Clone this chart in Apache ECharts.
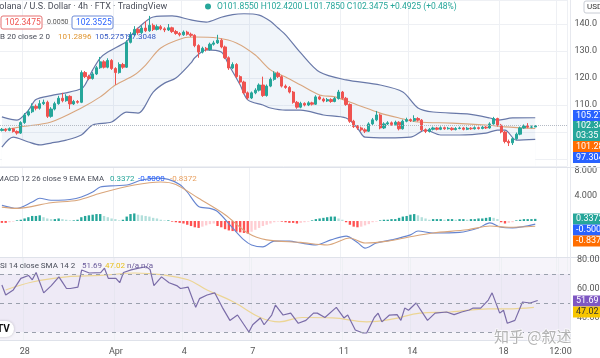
<!DOCTYPE html>
<html>
<head>
<meta charset="utf-8">
<title>SOL/USD 4h</title>
<script src="https://cdn.jsdelivr.net/npm/echarts@6/dist/echarts.min.js"></script>
<style>
    html, body { margin: 0; padding: 0; background: #fff; }
    #chart { width: 600px; height: 358px; }
</style>
</head>
<body>
<div id="chart"></div>
<script>
// 4h candles, Mar 27 00:00 onwards (150 slots, 142 filled)
const opens = [
    100.6, 101.0, 100.6, 101.2, 100.2, 99.6, 103.5, 106.3, 107.5, 109.5,
    108.8, 110.5, 111.0, 105.8, 108.5, 110.5, 112.5, 111.6, 113.2, 110.4,
    111.3, 111.0, 122.0, 120.5, 119.8, 121.5, 123.8, 126.0, 124.0, 126.5,
    123.5, 122.0, 125.0, 124.0, 133.2, 136.0, 138.0, 136.8, 138.5, 137.5,
    139.5, 138.0, 139.0, 138.2, 137.8, 138.6, 137.2, 136.5, 136.0, 137.0,
    136.2, 135.8, 132.0, 129.6, 131.0, 130.5, 132.5, 133.0, 134.0, 131.5,
    127.5, 123.7, 125.0, 120.5, 118.5, 114.5, 112.6, 114.5, 115.5, 117.4,
    113.5, 117.0, 119.5, 121.8, 120.5, 117.0, 116.5, 114.8, 111.0, 109.2,
    110.6, 110.0, 110.8, 110.3, 113.0, 112.2, 111.5, 112.0, 111.3, 112.4,
    114.8, 112.5, 110.2, 104.0, 102.0, 101.5, 100.8, 100.3, 103.0, 104.5,
    106.3, 101.5, 103.0, 103.4, 102.8, 103.6, 101.2, 104.0, 104.6, 104.2,
    105.0, 104.4, 100.8, 100.2, 101.0, 101.5, 101.0, 101.6, 101.2, 101.4,
    100.9, 101.3, 101.5, 101.0, 101.4, 101.2, 101.6, 101.3, 101.8, 101.5,
    103.0, 105.0, 102.5, 100.0, 96.5, 96.0, 97.5, 99.2, 101.5, 102.2,
    101.8, 101.855
]
const closes = [
    101.0, 100.6, 101.2, 100.2, 99.6, 103.5, 106.3, 107.5, 109.5, 108.8,
    110.5, 111.0, 105.8, 108.5, 110.5, 112.5, 111.6, 113.2, 110.4, 111.3,
    111.0, 122.0, 120.5, 119.8, 121.5, 123.8, 126.0, 124.0, 126.5, 123.5,
    122.0, 125.0, 124.0, 133.2, 136.0, 138.0, 136.8, 138.5, 137.5, 139.5,
    138.0, 139.0, 138.2, 137.8, 138.6, 137.2, 136.5, 136.0, 137.0, 136.2,
    135.8, 132.0, 129.6, 131.0, 130.5, 132.5, 133.0, 134.0, 131.5, 127.5,
    123.7, 125.0, 120.5, 118.5, 114.5, 112.6, 114.5, 115.5, 117.4, 113.5,
    117.0, 119.5, 121.8, 120.5, 117.0, 116.5, 114.8, 111.0, 109.2, 110.6,
    110.0, 110.8, 110.3, 113.0, 112.2, 111.5, 112.0, 111.3, 112.4, 114.8,
    112.5, 110.2, 104.0, 102.0, 101.5, 100.8, 100.3, 103.0, 104.5, 106.3,
    101.5, 103.0, 103.4, 102.8, 103.6, 101.2, 104.0, 104.6, 104.2, 105.0,
    104.4, 100.8, 100.2, 101.0, 101.5, 101.0, 101.6, 101.2, 101.4, 100.9,
    101.3, 101.5, 101.0, 101.4, 101.2, 101.6, 101.3, 101.8, 101.5, 103.0,
    105.0, 102.5, 100.0, 96.5, 96.0, 97.5, 99.2, 101.5, 102.2, 101.8,
    101.855, 102.3475
]
const highs = [
    101.5, 101.4, 101.7, 101.5, 100.6, 104.0, 107.0, 108.3, 110.6, 110.2,
    111.8, 112.0, 111.6, 109.2, 111.2, 113.4, 114.5, 114.0, 113.6, 111.9,
    111.8, 122.8, 122.6, 121.2, 122.2, 124.5, 127.8, 126.6, 127.3, 127.0,
    124.0, 125.8, 125.6, 134.0, 137.0, 139.2, 138.6, 139.4, 141.0, 143.0,
    140.2, 139.8, 139.6, 138.8, 140.0, 139.0, 137.8, 137.0, 137.6, 137.5,
    136.8, 136.2, 132.5, 131.6, 131.5, 133.1, 133.8, 136.0, 134.6, 132.0,
    128.0, 125.8, 125.5, 121.0, 119.0, 115.0, 115.0, 116.2, 118.0, 120.5,
    117.6, 120.2, 122.5, 122.4, 121.0, 117.6, 117.0, 115.2, 111.5, 111.2,
    111.0, 111.4, 111.2, 113.6, 113.5, 112.7, 112.6, 112.5, 113.0, 115.6,
    115.2, 113.0, 110.6, 104.5, 102.6, 102.0, 101.4, 103.6, 105.2, 107.8,
    106.8, 103.6, 104.0, 103.9, 104.2, 104.0, 104.6, 105.3, 105.0, 106.2,
    105.5, 104.8, 101.3, 101.5, 102.0, 101.9, 102.1, 102.0, 101.9, 101.8,
    101.8, 102.0, 101.9, 101.9, 101.8, 102.1, 102.0, 102.3, 102.2, 103.6,
    105.6, 105.3, 103.0, 100.4, 97.2, 98.0, 99.8, 102.0, 102.8, 103.3,
    102.4, 102.42
]
const lows = [
    100.2, 100.1, 100.3, 99.8, 99.0, 99.3, 103.0, 105.8, 107.0, 108.0,
    108.3, 110.0, 105.2, 105.3, 108.0, 110.1, 111.0, 111.2, 108.5, 110.0,
    110.5, 110.7, 120.0, 119.2, 119.4, 121.1, 123.4, 123.5, 123.6, 123.0,
    117.5, 121.6, 123.4, 123.7, 132.8, 135.5, 136.0, 136.3, 137.0, 137.1,
    137.4, 137.6, 137.7, 137.0, 137.4, 136.7, 136.0, 135.4, 135.6, 135.7,
    135.2, 131.4, 127.5, 129.1, 129.8, 130.1, 132.0, 132.6, 131.0, 127.0,
    123.0, 123.3, 120.0, 117.8, 114.0, 112.0, 112.2, 114.0, 115.0, 113.0,
    113.1, 116.6, 119.0, 120.0, 116.5, 116.0, 114.3, 110.5, 108.6, 108.8,
    109.5, 109.6, 109.8, 110.0, 111.8, 111.0, 111.1, 110.8, 111.0, 112.0,
    112.0, 109.7, 103.4, 101.5, 100.8, 100.2, 99.6, 100.0, 102.6, 104.0,
    101.0, 101.1, 102.6, 102.3, 102.4, 100.6, 100.9, 103.6, 103.7, 103.8,
    103.9, 100.3, 99.6, 99.8, 100.6, 100.6, 100.7, 100.8, 100.9, 100.5,
    100.6, 101.0, 100.6, 100.7, 100.8, 100.9, 100.9, 101.0, 101.1, 101.2,
    102.7, 102.0, 99.5, 95.8, 94.8, 95.2, 97.1, 98.8, 101.2, 101.4,
    101.4, 101.785
]

// Bollinger bands: [candle index, value]
const bbUpper = [
    [0, 105.6], [4, 104.4], [7, 108], [9, 112], [13, 113.5], [17, 114.5], [21, 116],
    [22, 117.5], [24, 123], [26, 127.4], [28, 129.6], [33, 133.5], [34, 135.5], [36, 138.5],
    [40, 142.6], [45, 143.0], [50, 141.5], [54, 140.7], [58, 142.5], [61, 143.5], [64, 143.8],
    [68, 143.3], [71, 141], [73, 138.5], [75, 136], [79, 129.3], [84, 122.2], [91, 119.3],
    [100, 117.4], [106, 114.8], [110, 108.9], [114, 107.4], [123, 106.7], [129, 105.2],
    [131, 104.4], [135, 105.2], [141, 105.2751]
]
const bbMiddle = [
    [0, 100.7], [5, 101.9], [13, 103.7], [21, 108.9], [26, 113.0], [30, 117.4], [35, 121.1],
    [38, 124.8], [42, 131.1], [48, 134.8], [51, 135.2], [57, 134.8], [62, 133.0], [67, 128.5],
    [71, 123.0], [75, 120.4], [79, 117.4], [84, 113.7], [88, 113.0], [94, 110.0], [100, 107.0],
    [105, 105.2], [110, 103.7], [119, 103.3], [128, 102.6], [133, 101.9], [141, 101.2896]
]
const bbLower = [
    [0, 94.4], [3, 98.1], [7, 96.3], [10, 95.2], [13, 95.9], [17, 97.0], [21, 98.9], [24, 102.6],
    [29, 103.7], [33, 107.4], [36, 107.0], [40, 114.8], [43, 118.1], [46, 120.0], [50, 125.6],
    [51, 127.5], [54, 130.4], [58, 129.6], [60, 124.8], [63, 117.4], [65, 111.9], [69, 110.0],
    [71, 108.9], [75, 108.1], [79, 108.1], [85, 106.3], [91, 105.2], [94, 101.5], [96, 98.1],
    [102, 97.8], [108, 98.1], [112, 100.7], [116, 98.9], [121, 98.9], [128, 99.6], [131, 100.7],
    [133, 100.7], [136, 97.0], [141, 97.3048]
]

// MACD 12 26 9
const macdHist = [
    -0.3, -0.3, -0.2, -0.1, 0.1, 0.2, 0.4, 0.6, 0.8, 0.8,
    0.9, 0.6, 0.4, 0.3, 0.3, 0.4, 0.3, 0.2, 0.1, 0.1,
    0.2, 0.6, 0.8, 0.9, 1.0, 1.1, 1.1, 0.8, 0.6, 0.4,
    0.3, 0.1, 0.2, 0.7, 1.1, 1.2, 1.0, 0.9, 0.8, 0.7,
    0.5, 0.4, 0.2, 0.1, 0.1, -0.1, -0.2, -0.3, -0.4, -0.6,
    -0.8, -1.0, -1.1, -0.9, -0.7, -0.5, -0.4, -0.8, -1.0, -1.3,
    -1.5, -1.6, -1.7, -1.8, -1.9, -2.0, -1.7, -1.4, -1.1, -0.8,
    -0.6, -0.4, -0.2, -0.1, -0.1, -0.2, -0.3, -0.3, -0.4, -0.3,
    -0.2, -0.1, 0.1, 0.3, 0.4, 0.5, 0.6, 0.7, 0.7, 0.4,
    0.2, -0.2, -0.6, -0.9, -1.0, -0.9, -0.7, -0.5, -0.2, -0.1,
    0.1, 0.2, 0.2, 0.3, 0.3, 0.5, 0.7, 0.8, 1.0, 1.1,
    0.9, 0.6, 0.4, 0.2, 0.3, 0.3, 0.3, 0.2, 0.3, 0.3,
    0.2, 0.3, 0.3, 0.2, 0.3, 0.3, 0.4, 0.4, 0.5, 0.6,
    0.5, 0.3, -0.2, -0.4, -0.3, -0.2, 0.1, 0.2, 0.3, 0.3,
    0.3, 0.3372
]
const macdLine = [
    [0, 2.5], [4, 2.0], [8, 3.0], [10, 3.6], [13, 3.3], [15, 3.3], [18, 3.4], [21, 3.8],
    [24, 4.6], [26, 5.4], [30, 5.6], [33, 5.7], [37, 6.5], [41, 6.8], [44, 6.6], [47, 5.8],
    [49, 4.6], [52, 2.3], [55, 2.0], [57, 1.5], [61, -1.1], [64, -3.0], [66, -3.8], [69, -4.1],
    [72, -3.2], [76, -3.2], [79, -3.5], [83, -3.8], [87, -3.0], [91, -2.4], [94, -3.4],
    [96, -4.3], [99, -3.5], [103, -3.0], [108, -2.2], [110, -1.6], [114, -1.9], [121, -1.8],
    [126, -1.1], [129, -0.3], [132, -1.0], [135, -1.1], [141, -0.5]
]
const signalLine = [
    [0, 2.2], [4, 2.0], [13, 2.9], [20, 3.3], [26, 4.4], [35, 5.7], [42, 6.2], [46, 5.8],
    [52, 3.6], [59, 1.0], [65, -1.9], [70, -3.0], [79, -3.4], [86, -3.8], [92, -2.7],
    [96, -3.5], [102, -3.2], [108, -2.5], [114, -1.9], [123, -1.4], [129, -0.8], [134, -1.0],
    [141, -0.8372]
]

// RSI 14 and its SMA 14
const rsiLine = [
    [0, 62.4], [1, 55.5], [3, 59], [5, 67], [7, 69], [8, 66], [9, 71], [11, 57], [13, 62],
    [15, 68], [16, 64], [17, 60], [18, 60], [20, 61], [21, 72.8], [23, 70.7], [26, 71],
    [27, 74], [28, 67], [30, 67], [31, 64], [32, 71], [34, 72.8], [36, 74], [38, 75], [39, 73],
    [40, 62], [42, 68], [44, 64], [46, 62], [47, 60], [49, 61], [51, 47], [52, 53], [54, 55.5],
    [56, 57], [58, 47], [60, 38], [62, 41.7], [65, 30], [66, 35], [68, 39.7], [69, 35],
    [71, 41.7], [72, 48.6], [74, 41.7], [76, 43], [78, 36], [80, 38], [82, 43], [83, 43],
    [85, 40], [88, 47], [90, 39.7], [91, 41.7], [93, 31.4], [95, 29.3], [96, 29.3], [98, 40],
    [99, 43], [100, 37], [102, 41.7], [104, 42], [105, 38], [106, 46.5], [107, 45], [109, 50],
    [112, 38], [114, 43], [117, 43.8], [119, 42], [121, 43.8], [123, 45.2], [124, 46.5],
    [126, 46.5], [128, 52], [129, 57], [131, 43], [132, 45], [133, 36], [135, 38],
    [137, 50.7], [139, 50], [141, 51.69]
]
const rsiSma = [
    [1, 59], [8, 64.5], [17, 68], [26, 69], [35, 70.7], [42, 69.5], [49, 66], [54, 59],
    [61, 50.7], [68, 40], [73, 37], [79, 40], [87, 39.7], [96, 37], [103, 39], [110, 43],
    [118, 43.8], [128, 46], [133, 46], [140, 47.02]
]
const rsiTicks = [80, 60, 40]

// time axis ticks
const tickIdx = [6, 30, 48, 66, 90, 108, 132, 147]
const tickText = ['28', 'Apr', '4', '7', '11', '14', '18', '12:00']

const categories = []
for (let i = 0; i < 150; i++) {
    let d = new Date(Date.UTC(2022, 2, 27) + i * 4 * 3600 * 1000)
    categories.push(`${d.getUTCMonth() + 1}-${d.getUTCDate()} ${String(d.getUTCHours()).padStart(2, '0')}:00`)
}

const candleData = opens.map((o, i) => [o, closes[i], lows[i], highs[i]])
const lastPrice = closes[closes.length - 1]

const UP = '#26a69a'
const DOWN = '#ef5350'
const FONT = 'Roboto, "Noto Sans", sans-serif'
const NARROW = '"Liberation Sans Narrow", Roboto, sans-serif'

const histColor = (i) => {
    let v = macdHist[i]
    let p = i > 0 ? macdHist[i - 1] : 0
    if (v >= 0) return v >= p ? '#26a69a' : '#b2dfdb'
    return v <= p ? '#ff5252' : '#ffcdd2'
}

const isTick = (index) => tickIdx.includes(index)
const onStep = (v, step) => Math.abs(v / step - Math.round(v / step)) < 1e-6

const txt = (text, x, y, fill, size, family) => ({
    type: 'text', x: x, y: y, z: 100,
    style: { text: text, fill: fill, font: `${size}px ${family || FONT}`, verticalAlign: 'middle' }
})

const box = (text, y, bg, fg) => [
    { type: 'rect', z: 100, shape: { x: 573, y: y - 5.5, width: 30, height: 11 }, style: { fill: bg } },
    txt(text, 576, y, fg || '#fff', 9)
]

let chartDom = document.getElementById('chart')
let myChart = echarts.init(chartDom)
let option

option = {
    animation: false,
    backgroundColor: '#ffffff',
    textStyle: { fontFamily: FONT },
    grid: [
        { left: 0, top: 0, width: 570, height: 166 },
        { left: 0, top: 168, width: 570, height: 103.4 },
        { left: 0, top: 258, width: 570, height: 82, show: true, backgroundColor: '#f6f4fa', borderWidth: 0 }
    ],
    xAxis: [0, 1, 2].map(g => ({
        type: 'category',
        gridIndex: g,
        data: categories,
        boundaryGap: true,
        axisLine: { show: g === 2, lineStyle: { color: '#dfe2ea' } },
        axisTick: { show: false },
        axisLabel: {
            show: g === 2,
            interval: isTick,
            formatter: (value, index) => tickText[tickIdx.indexOf(index)],
            color: '#555',
            fontSize: 9,
            margin: 7
        },
        splitLine: { show: true, interval: isTick, lineStyle: { color: '#eef0f4' } }
    })),
    yAxis: [
        {
            gridIndex: 0, position: 'right', min: 87.41, max: 148.89, splitNumber: 6,
            axisLine: { show: false }, axisTick: { show: false },
            axisLabel: { formatter: v => (v >= 110 && onStep(v, 10) ? v.toFixed(1) : ''), color: '#555', fontSize: 9, margin: 7 },
            splitLine: { lineStyle: { color: '#eef0f4' } }
        },
        {
            gridIndex: 1, position: 'right', min: -8, max: 8.41, interval: 4,
            axisLine: { show: false }, axisTick: { show: false },
            axisLabel: { formatter: v => (v >= 4 && onStep(v, 4) ? v.toFixed(3) : ''), color: '#555', fontSize: 9, margin: 7 },
            splitLine: { show: false }
        },
        {
            gridIndex: 2, position: 'right', min: 24.48, max: 81.03,
            axisLine: { show: false }, axisTick: { show: false },
            axisLabel: { show: false },
            splitLine: { show: false }
        }
    ],
    series: [
        {
            name: 'BB upper', type: 'line', data: bbUpper, smooth: 0.3, showSymbol: false, z: 1,
            lineStyle: { color: '#6878a8', width: 1.2 },
            areaStyle: { color: 'rgba(100,140,200,0.13)', origin: 'start' }
        },
        {
            name: 'BB lower', type: 'line', data: bbLower, smooth: 0.3, showSymbol: false, z: 2,
            lineStyle: { color: '#6878a8', width: 1.2 },
            areaStyle: { color: '#ffffff', opacity: 1, origin: 'start' }
        },
        {
            name: 'BB basis', type: 'line', data: bbMiddle, smooth: 0.3, showSymbol: false, z: 3,
            lineStyle: { color: '#d9a67e', width: 1.1 }
        },
        {
            name: 'SOL/USD', type: 'candlestick', data: candleData, barWidth: '72%', z: 4,
            itemStyle: { color: UP, color0: DOWN, borderColor: UP, borderColor0: DOWN, borderWidth: 1 },
            markLine: {
                silent: true, symbol: 'none',
                label: { show: false },
                lineStyle: { color: '#b4bac4', type: 'dotted', width: 1 },
                data: [{ yAxis: lastPrice }]
            }
        },
        {
            name: 'Histogram', type: 'bar', xAxisIndex: 1, yAxisIndex: 1, barWidth: '62%',
            data: macdHist,
            itemStyle: { color: params => histColor(params.dataIndex) }
        },
        {
            name: 'MACD', type: 'line', xAxisIndex: 1, yAxisIndex: 1, data: macdLine, smooth: 0.3, showSymbol: false,
            lineStyle: { color: '#6685d0', width: 1.1 }
        },
        {
            name: 'Signal', type: 'line', xAxisIndex: 1, yAxisIndex: 1, data: signalLine, smooth: 0.3, showSymbol: false,
            lineStyle: { color: '#d9a57a', width: 1.1 }
        },
        {
            name: 'RSI', type: 'line', xAxisIndex: 2, yAxisIndex: 2, data: rsiLine, showSymbol: false, z: 3,
            lineStyle: { color: '#7a6ca8', width: 1.2 },
            markArea: {
                silent: true,
                itemStyle: { color: 'rgba(126,87,194,0.06)' },
                data: [[{ yAxis: 30 }, { yAxis: 70 }]]
            },
            markLine: {
                silent: true, symbol: 'none',
                label: { show: false },
                lineStyle: { color: '#9aa0ad', type: [4, 4], width: 1 },
                data: [{ yAxis: 70 }, { yAxis: 50 }, { yAxis: 30 }]
            }
        },
        {
            name: 'RSI SMA', type: 'line', xAxisIndex: 2, yAxisIndex: 2, data: rsiSma, smooth: 0.4, showSymbol: false, z: 2,
            lineStyle: { color: '#ecd594', width: 1.2 }
        }
    ]
}

option && myChart.setOption(option)

// RSI scale labels, placed through the RSI axis itself
const rsiLabels = rsiTicks.map(v => {
    let el = txt(v.toFixed(2), 577, myChart.convertToPixel({ yAxisIndex: 2 }, v), '#555', 9)
    el.z = v === 40 ? 95 : 102
    return el
})

myChart.setOption({
    graphic: [
        // pane separators
        { type: 'line', z: 90, shape: { x1: 0, y1: 167.5, x2: 600, y2: 167.5 }, style: { stroke: '#dfe2ea' } },
        { type: 'line', z: 90, shape: { x1: 0, y1: 257.5, x2: 600, y2: 257.5 }, style: { stroke: '#dfe2ea' } },
        { type: 'line', z: 90, shape: { x1: 570.5, y1: 0, x2: 570.5, y2: 340 }, style: { stroke: '#e6e8ee' } },

        // legend: main pane
        txt('Solana / U.S. Dollar · 4h · FTX · TradingView', -6, 7, '#4a4e5a', 9),
        { type: 'circle', z: 100, shape: { cx: 208, cy: 6.5, r: 3 }, style: { fill: UP } },
        txt('O101.8550 H102.4200 L101.7850 C102.3475 +0.4925 (+0.48%)', 217, 7, UP, 8.5),
        { type: 'rect', z: 100, shape: { x: 1, y: 16, width: 41, height: 13, r: 2 }, style: { fill: '#fff', stroke: '#e57373' } },
        txt('102.3475', 5, 22.5, DOWN, 8.5),
        txt('0.0050', 47, 22.5, '#555', 7),
        { type: 'rect', z: 100, shape: { x: 72, y: 16, width: 41, height: 13, r: 2 }, style: { fill: '#fff', stroke: '#6f8bd6' } },
        txt('102.3525', 76, 22.5, '#2962ff', 8.5),
        txt('BB 20 close 2 0', -5, 37, '#4a4e5a', 8),
        txt('101.2896', 58, 37, '#e0952f', 8, NARROW),
        txt('105.2751', 95, 37, '#3559c4', 8, NARROW),
        txt('97.3048', 127, 37, '#3559c4', 8, NARROW),

        // legend: MACD pane
        txt('MACD 12 26 close 9 EMA EMA', -3, 179, '#4a4e5a', 7.8),
        txt('0.3372', 110, 179, UP, 8),
        txt('-0.5000', 138, 179, '#2962ff', 8),
        txt('-0.8372', 170, 179, '#e8a060', 8),

        // legend: RSI pane
        txt('RSI 14 close SMA 14 2', -5, 266, '#4a4e5a', 8),
        txt('51.69', 82, 266, '#6a5a9a', 8),
        txt('47.02', 105, 266, '#e8c020', 8),
        txt('n/a n/a', 127, 266, '#6a5a9a', 8),

        // price scale tags
        ...box('105.2751', 115.5, '#2962ff'),
        { type: 'rect', z: 100, shape: { x: 573, y: 121, width: 30, height: 20 }, style: { fill: UP } },
        txt('102.3475', 576, 126, '#fff', 9),
        txt('03:35', 576, 136, '#fff', 9),
        ...box('101.2896', 146.5, '#ff6d00'),
        ...box('97.3048', 157.5, '#2962ff'),
        ...box('0.3372', 219, UP),
        ...box('-0.5000', 230, '#2962ff'),
        ...box('-0.8372', 241, '#ff6d00'),
        ...box('51.69', 301, '#7e57c2'),
        ...box('47.02', 312, '#f7c600', '#333'),

        ...rsiLabels,

        // currency button
        { type: 'rect', z: 100, shape: { x: 584, y: 1, width: 20, height: 12, r: 2 }, style: { fill: '#fff', stroke: '#c8ccd4' } },
        txt('USD', 587, 7, '#333', 8),

        // logo + watermark
        { type: 'rect', z: 100, shape: { x: -8, y: 321, width: 22, height: 16, r: 8 }, style: { fill: '#fff', shadowBlur: 3, shadowColor: 'rgba(0,0,0,0.2)' } },
        { type: 'text', x: -3, y: 329, z: 101, style: { text: 'TV', fill: '#111', font: `bold 10px ${FONT}`, verticalAlign: 'middle' } },
        {
            type: 'text', x: 494, y: 336, z: 100,
            style: {
                text: '知乎 @叙述', fill: 'rgba(130,130,130,0.6)', font: '15px "Noto Sans CJK SC", sans-serif',
                verticalAlign: 'middle', stroke: 'rgba(255,255,255,0.8)', lineWidth: 1.5
            }
        }
    ]
})
</script>
</body>
</html>
